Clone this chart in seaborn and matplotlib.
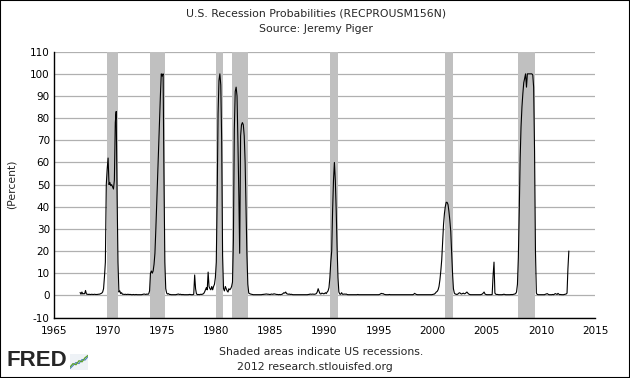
import matplotlib
matplotlib.use("Agg")
import matplotlib.pyplot as plt
import pandas as pd
import seaborn as sns
from matplotlib.patches import Rectangle

# ---------------- data ----------------
series_start = "1967-06-01"   # monthly series, first observation
recession_prob = [
    # 1967 (Jun-Dec)
    1.3, 0.5, 1.5, 0.6, 0.8, 0.7, 2.2,
    # 1968
    0.6, 0.5, 0.4, 0.5, 0.4, 0.4, 0.5, 0.4, 0.4, 0.5, 0.4, 0.4,
    # 1969
    0.4, 0.5, 0.5, 0.6, 0.8, 1.0, 1.5, 3.0, 8.5, 15, 50, 57,
    # 1970
    62, 50, 51, 49.5, 50, 49, 48, 52, 78, 83, 45, 15,
    # 1971
    1.5, 2.0, 0.8, 1.2, 0.5, 0.5, 0.4, 0.5, 0.4, 0.4, 0.5, 0.4,
    # 1972
    0.4, 0.4, 0.3, 0.3, 0.4, 0.3, 0.3, 0.4, 0.3, 0.3, 0.3, 0.3,
    # 1973
    0.3, 0.3, 0.4, 0.5, 0.6, 0.5, 0.4, 0.6, 0.5, 0.6, 2.0, 10,
    # 1974
    11, 10, 11, 14, 19, 30, 42, 54, 66, 78, 90, 100,
    # 1975
    99, 100, 55, 15, 3, 1.0, 0.6, 0.8, 0.4, 0.4, 0.3, 0.3,
    # 1976
    0.3, 0.3, 0.3, 0.3, 0.4, 0.5, 0.6, 0.4, 0.5, 0.4, 0.3, 0.4,
    # 1977
    0.3, 0.3, 0.3, 0.3, 0.3, 0.3, 0.4, 0.4, 0.3, 0.3, 0.3, 0.5,
    # 1978
    9.2, 3, 0.8, 0.3, 0.4, 0.3, 0.4, 0.5, 0.4, 0.6, 0.8, 1.5,
    # 1979
    2.5, 3.5, 2.5, 10.5, 4, 3, 2.5, 4, 2.5, 4, 5, 8,
    # 1980
    15, 45, 82, 97, 100, 95, 70, 18, 3, 2, 4, 3,
    # 1981
    2, 1.5, 3, 2.5, 3, 4, 6, 25, 75, 92, 94, 90,
    # 1982
    69, 45, 19, 72, 77, 78, 77, 72, 60, 40, 18, 5,
    # 1983
    1, 0.8, 0.6, 0.5, 0.4, 0.3, 0.3, 0.3, 0.3, 0.3, 0.3, 0.3,
    # 1984
    0.3, 0.3, 0.3, 0.4, 0.4, 0.5, 0.5, 0.6, 0.6, 0.5, 0.5, 0.4,
    # 1985
    0.4, 0.6, 0.5, 0.5, 0.7, 0.6, 0.5, 0.4, 0.4, 0.3, 0.4, 0.3,
    # 1986
    0.4, 0.5, 0.8, 1.2, 1.0, 1.5, 0.8, 0.6, 0.5, 0.6, 0.4, 0.5,
    # 1987
    0.4, 0.3, 0.3, 0.3, 0.3, 0.3, 0.3, 0.3, 0.3, 0.3, 0.3, 0.3,
    # 1988
    0.3, 0.3, 0.3, 0.3, 0.3, 0.3, 0.4, 0.4, 0.6, 0.5, 0.5, 0.6,
    # 1989
    0.5, 0.5, 0.6, 0.8, 1.5, 3.0, 1.8, 0.8, 0.6, 1.0, 0.9, 0.7,
    # 1990
    0.8, 1.2, 0.8, 1.5, 2.0, 3.5, 8, 15, 20, 38, 52, 60,
    # 1991
    52, 38, 22, 8, 1.5, 0.6, 0.5, 1.2, 0.5, 0.5, 0.6, 0.5,
    # 1992
    0.6, 0.4, 0.3, 0.3, 0.3, 0.3, 0.3, 0.3, 0.3, 0.3, 0.3, 0.3,
    # 1993
    0.3, 0.4, 0.3, 0.3, 0.3, 0.3, 0.3, 0.3, 0.3, 0.3, 0.3, 0.3,
    # 1994
    0.3, 0.3, 0.3, 0.3, 0.3, 0.3, 0.3, 0.3, 0.3, 0.3, 0.3, 0.3,
    # 1995
    0.3, 0.4, 0.6, 0.9, 0.7, 0.8, 0.5, 0.4, 0.3, 0.3, 0.3, 0.3,
    # 1996
    0.4, 0.3, 0.3, 0.3, 0.3, 0.3, 0.3, 0.3, 0.3, 0.3, 0.3, 0.3,
    # 1997
    0.3, 0.3, 0.3, 0.3, 0.3, 0.3, 0.3, 0.3, 0.3, 0.3, 0.3, 0.3,
    # 1998
    0.3, 0.3, 0.3, 0.5, 0.9, 0.6, 0.4, 0.3, 0.3, 0.3, 0.3, 0.3,
    # 1999
    0.3, 0.3, 0.3, 0.3, 0.3, 0.3, 0.3, 0.3, 0.3, 0.3, 0.3, 0.3,
    # 2000
    0.4, 0.5, 0.6, 1.0, 1.5, 1.8, 2.5, 4.0, 7.0, 11, 16, 24,
    # 2001
    32, 37, 40, 42, 42, 41, 38, 34, 29, 20, 10, 3,
    # 2002
    1.0, 0.6, 0.5, 0.4, 0.6, 1.0, 1.2, 0.8, 0.6, 0.8, 1.0, 0.7,
    # 2003
    0.8, 1.2, 1.5, 1.0, 0.6, 0.4, 0.3, 0.3, 0.3, 0.3, 0.3, 0.3,
    # 2004
    0.3, 0.3, 0.3, 0.3, 0.3, 0.3, 0.4, 0.6, 1.0, 1.5, 0.6, 0.4,
    # 2005
    0.3, 0.3, 0.3, 0.3, 0.3, 0.3, 0.4, 9, 15, 1.0, 0.5, 0.4,
    # 2006
    0.4, 0.3, 0.3, 0.3, 0.3, 0.3, 0.4, 0.5, 0.4, 0.3, 0.3, 0.3,
    # 2007
    0.3, 0.3, 0.3, 0.4, 0.3, 0.4, 0.5, 0.6, 0.8, 1.5, 5, 17,
    # 2008
    38, 62, 76, 85, 91, 96, 98, 100, 94, 100, 100, 100,
    # 2009
    100, 100, 100, 99.5, 94, 65, 20, 1.0, 0.4, 0.3, 0.3, 0.3,
    # 2010
    0.3, 0.3, 0.3, 0.3, 0.3, 0.5, 0.6, 0.8, 0.5, 0.3, 0.3, 0.3,
    # 2011
    0.3, 0.4, 0.3, 0.5, 0.8, 0.6, 0.4, 0.9, 0.5, 0.3, 0.4, 0.3,
    # 2012 (Jan-Aug)
    0.3, 0.3, 0.4, 0.5, 0.6, 1.0, 12, 20,
]

recession_starts = ["1969-12-01", "1973-11-01", "1980-01-01", "1981-07-01",
                    "1990-07-01", "2001-03-01", "2007-12-01"]
recession_ends = ["1970-12-01", "1975-04-01", "1980-08-01", "1982-12-01",
                  "1991-04-01", "2001-12-01", "2009-07-01"]

x_tick_years = [1965, 1970, 1975, 1980, 1985, 1990, 1995, 2000, 2005, 2010, 2015]
y_ticks = [-10, 0, 10, 20, 30, 40, 50, 60, 70, 80, 90, 100, 110]

# small FRED logo icon (decoration)
icon_x = [0, 1, 2, 3, 4, 5, 6]
icon_green = [1.0, 2.2, 1.8, 3.2, 2.8, 4.2, 5.0]
icon_blue = [0.5, 1.5, 2.6, 2.2, 3.6, 3.4, 4.6]

# ---------------- figure ----------------
sns.set_style("white")
plt.rcParams["font.family"] = ["DejaVu Sans"]

W, H = 630, 378
fig = plt.figure(figsize=(W / 100, H / 100), dpi=100)
fig.patch.set_facecolor("white")

ax_left, ax_right, ax_top, ax_bottom = 54, 595, 51.7, 317.5
ax = fig.add_axes([ax_left / W, 1 - ax_bottom / H,
                   (ax_right - ax_left) / W, (ax_bottom - ax_top) / H])

df = pd.DataFrame({
    "date": pd.date_range(series_start, periods=len(recession_prob), freq="MS"),
    "prob": recession_prob,
})

sns.lineplot(data=df, x="date", y="prob", color="black", linewidth=0.8,
             ax=ax, zorder=3)

for s, e in zip(recession_starts, recession_ends):
    ax.axvspan(pd.Timestamp(s), pd.Timestamp(e), color="#c0c0c0", lw=0, zorder=1)

ax.set_xlim(pd.Timestamp(f"{x_tick_years[0]}-01-01"),
            pd.Timestamp(f"{x_tick_years[-1]}-01-01"))
ax.set_ylim(y_ticks[0], y_ticks[-1])
ax.set_xticks([pd.Timestamp(f"{y}-01-01") for y in x_tick_years])
ax.set_xticklabels([str(y) for y in x_tick_years])
ax.set_yticks(y_ticks)
ax.set_yticklabels([str(v) for v in y_ticks])

ax.set_axisbelow(True)
ax.yaxis.grid(True, color="#b0b0b0", linewidth=0.9)
ax.xaxis.grid(False)

for side in ["top", "right"]:
    ax.spines[side].set_visible(False)
for side in ["left", "bottom"]:
    ax.spines[side].set_color("black")
    ax.spines[side].set_linewidth(1.0)
    ax.spines[side].set_zorder(4)

ax.tick_params(axis="both", direction="in", length=4, width=0.8,
               color="black", labelsize=7.5, labelcolor="black")
ax.tick_params(axis="x", pad=6)
ax.tick_params(axis="y", pad=3)
ax.set_xlabel("")
ax.set_ylabel("")

# texts
fig.text(316 / W, 1 - 13 / H, "U.S. Recession Probabilities (RECPROUSM156N)",
         ha="center", va="center", fontsize=7.8)
fig.text(316 / W, 1 - 29 / H, "Source: Jeremy Piger",
         ha="center", va="center", fontsize=7.8)
fig.text(12 / W, 1 - 184.6 / H, "(Percent)", rotation=90,
         ha="center", va="center", fontsize=7.8)
fig.text(321 / W, 1 - 352 / H, "Shaded areas indicate US recessions.",
         ha="center", va="center", fontsize=7.8)
fig.text(315 / W, 1 - 367 / H, "2012 research.stlouisfed.org",
         ha="center", va="center", fontsize=7.8)

# FRED logo
fig.text(7 / W, 1 - 361 / H, "FRED", ha="left", va="center",
         fontsize=16, fontweight="bold", family=["Liberation Sans", "DejaVu Sans"])
iax = fig.add_axes([70 / W, 1 - 370 / H, 18 / W, 16 / H])
iax.set_facecolor("#eef2f6")
iax.plot(icon_x, icon_blue, color="#4a7fc1", lw=0.8)
iax.plot(icon_x, icon_green, color="#5aa02c", lw=0.9)
iax.set_xlim(0, 6)
iax.set_ylim(0, 5.5)
iax.set_xticks([])
iax.set_yticks([])
for sp in iax.spines.values():
    sp.set_visible(False)

# outer border
fig.add_artist(Rectangle((0, 0), 1, 1, transform=fig.transFigure, fill=False,
                         edgecolor="black", linewidth=1.5))

fig.savefig("out.png", dpi=100, facecolor="white")
